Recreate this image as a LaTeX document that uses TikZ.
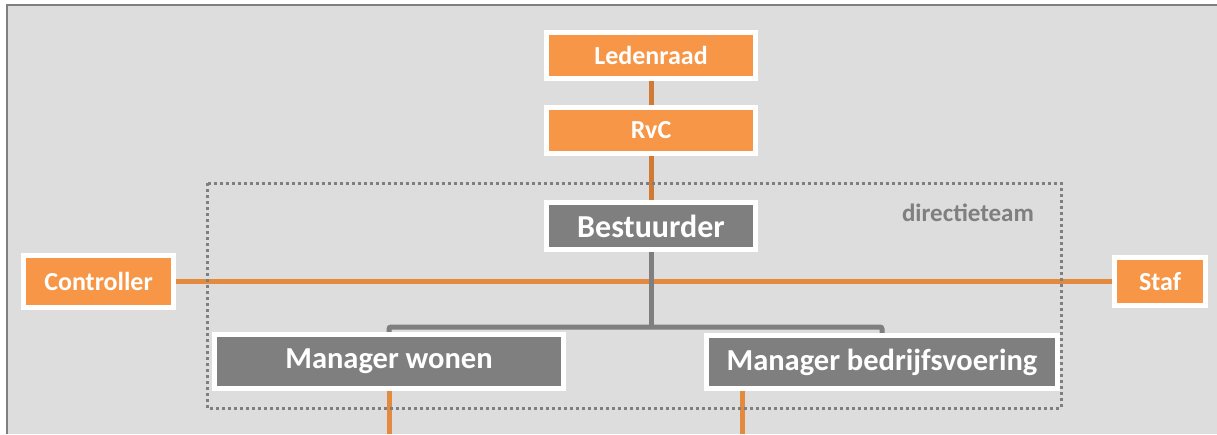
\documentclass[tikz,border=0pt]{standalone}
\usepackage{fontspec}
\setmainfont{Carlito}
\definecolor{boxorange}{RGB}{247,150,70}
\definecolor{lineorange}{RGB}{228,138,62}
\definecolor{darkorange}{RGB}{208,122,52}
\definecolor{boxgray}{RGB}{127,127,127}
\definecolor{panelgray}{RGB}{221,221,221}
\pgfdeclarelayer{back}
\pgfdeclarelayer{mid}
\pgfsetlayers{back,mid,main}
\tikzset{
  orgbox/.style={draw=white,line width=5pt,inner sep=0pt,text=white,font=\bfseries},
  boardbox/.style={orgbox,fill=boxorange,font=\fontsize{26}{30}\selectfont\bfseries},
  teambox/.style={orgbox,fill=boxgray,font=\fontsize{30.5}{36}\selectfont\bfseries},
  orangelink/.style={lineorange,line width=5pt},
  graylink/.style={boxgray,line width=5pt},
}

\begin{document}
\begin{tikzpicture}[x=1pt,y=-1pt]
  \useasboundingbox (0,0) rectangle (1217,434);

  % board
  \node[boardbox,minimum width=209pt,minimum height=46pt] (led) at (651,55.5) {Ledenraad};
  \node[boardbox,minimum width=209pt,minimum height=46pt] (rvc) at (651,130.5) {RvC};

  % management
  \node[teambox,minimum width=209pt,minimum height=47pt,font=\fontsize{32}{36}\selectfont\bfseries] (bes) at (651,226) {Bestuurder};
  \node[boardbox,minimum width=150pt,minimum height=52pt] (con) at (98.5,281.5) {Controller};
  \node[boardbox,minimum width=91pt,minimum height=48pt] (staf) at (1160,281.5) {Staf};
  \node[teambox,minimum width=349pt,minimum height=54pt] (mw) at (389,361.5) {Manager wonen};
  \node[teambox,minimum width=351pt,minimum height=53pt] (mb) at (882,362) {Manager bedrijfsvoering};
  \node[text=boxgray,font=\fontsize{25}{30}\selectfont\bfseries] (team) at (968,213) {directieteam};

  \coordinate (split) at (651,327);
  \coordinate (mwend) at (389,434);
  \coordinate (mbend) at (742,434);

  \begin{pgfonlayer}{back}
    \fill[white] (0,0) rectangle (1217,434);
    \fill[panelgray] (7,5) rectangle (1217,434);
    \draw[boxgray,line width=2pt] (7,434) -- (7,5) -- (1217,5);
  \end{pgfonlayer}

  \begin{pgfonlayer}{mid}
    \draw[darkorange,line width=5pt] (led.south) -- (rvc.north);
    \draw[darkorange,line width=5pt] (rvc.south) -- (bes.north);
    \draw[orangelink] (con.east) -- (staf.west);
    \draw[orangelink] (mw.south) -- (mwend);
    \draw[orangelink] (mb.south -| mbend) -- (mbend);
    \draw[graylink] (bes.south) -- (split);
    \draw[graylink,rounded corners=2pt] (mw.north) |- (split) -| (mb.north);
    \draw[boxgray,line width=3pt,dash pattern=on 3pt off 3pt] (207,183) rectangle (1061,408);
  \end{pgfonlayer}
\end{tikzpicture}
\end{document}
